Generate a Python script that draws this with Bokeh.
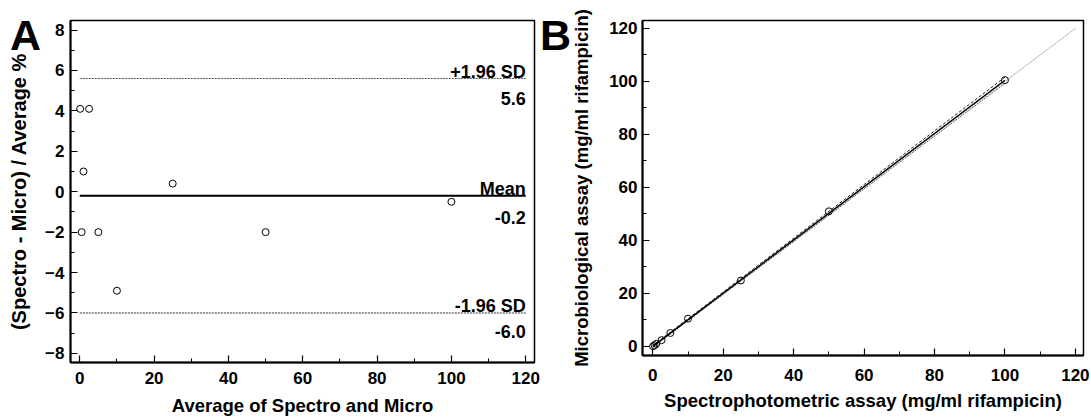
from bokeh.plotting import figure
from bokeh.models import Range1d, FixedTicker, Label, Div
from bokeh.embed import file_html
from bokeh.resources import INLINE

# ---------------- data ----------------
# Panel A: Bland-Altman
avg_x = [0.1, 0.5, 1.0, 2.5, 5.0, 10.0, 25.0, 50.0, 100.0]
diff_pct = [4.1, -2.0, 1.0, 4.1, -2.0, -4.9, 0.4, -2.0, -0.5]
sd_hi = 5.6
mean_diff = -0.2
sd_lo = -6.0
limit_x = [0, 120]

# Panel B: method comparison
spectro = [0.1, 0.5, 1.0, 2.5, 5.0, 10.0, 25.0, 50.0, 100.0]
micro = [0.1, 0.5, 1.0, 2.4, 5.1, 10.5, 24.9, 51.0, 100.5]
identity_x = [0, 120]
identity_y = [0, 120]
fit_x = [0, 100]
fit_y = [0.05, 100.45]
upper_y = [0.35, 101.6]
lower_y = [-0.25, 99.3]

ticksA_x = [0, 20, 40, 60, 80, 100, 120]
minorA_x = [10, 30, 50, 70, 90, 110]
ticksA_y = [-8, -6, -4, -2, 0, 2, 4, 6, 8]
minorA_y = [-7, -5, -3, -1, 1, 3, 5, 7]
ticksB = [0, 20, 40, 60, 80, 100, 120]
minorB = [10, 30, 50, 70, 90, 110]
panel_letters = ["A", "B"]

FONT = "Liberation Sans"


def style(p):
    p.xgrid.visible = False
    p.ygrid.visible = False
    p.outline_line_color = "black"
    p.outline_line_width = 1.5
    p.background_fill_color = "white"
    p.border_fill_color = "white"
    for ax in (p.xaxis[0], p.yaxis[0]):
        ax.axis_line_width = 2
        ax.axis_line_color = "black"
        ax.major_tick_in = 7
        ax.major_tick_out = 0
        ax.minor_tick_in = 4
        ax.minor_tick_out = 0
        ax.major_tick_line_width = 1.2
        ax.minor_tick_line_width = 1
        ax.major_label_text_font = FONT
        ax.major_label_text_font_style = "bold"
        ax.major_label_text_font_size = "17px"
        ax.major_label_text_color = "black"
        ax.axis_label_text_font = FONT
        ax.axis_label_text_font_style = "bold"
        ax.axis_label_text_font_size = "18.5px"
        ax.axis_label_text_color = "black"
    p.xaxis[0].major_label_text_line_height = 1.0
    p.xaxis[0].axis_label_text_line_height = 1.0


# ---------------- Panel A ----------------
pA = figure(width=540, height=418, x_range=Range1d(-2.5, 122.36), y_range=Range1d(-8.45, 8.47),
            output_backend="svg", toolbar_location=None,
            min_border_left=70, min_border_right=6, min_border_top=20, min_border_bottom=56)
style(pA)
pA.xaxis.ticker = FixedTicker(ticks=ticksA_x, minor_ticks=minorA_x)
pA.yaxis.ticker = FixedTicker(ticks=ticksA_y, minor_ticks=minorA_y)
pA.xaxis.axis_label = "Average of Spectro and Micro"
pA.yaxis.axis_label = "(Spectro - Micro) / Average %"
pA.yaxis.axis_label_text_font_size = "20px"
pA.xaxis.major_label_standoff = 9
pA.xaxis.axis_label_standoff = 8
pA.yaxis.major_label_standoff = 6
pA.yaxis.axis_label_standoff = 12

pA.line(limit_x, [sd_hi, sd_hi], line_color="#555555", line_width=1, line_dash="2 1")
pA.line(limit_x, [sd_lo, sd_lo], line_color="#333333", line_width=1, line_dash="2 1")
pA.line(limit_x, [mean_diff, mean_diff], line_color="black", line_width=2)
pA.scatter(avg_x, diff_pct, marker="circle", size=7, fill_color=None, line_color="black", line_width=1)

for txt, yv, off in [("+1.96 SD", sd_hi, 7), ("%.1f" % sd_hi, sd_hi, -19.5),
                     ("Mean", mean_diff, 7), ("%.1f" % mean_diff, mean_diff, -22),
                     ("-1.96 SD", sd_lo, 7), ("%.1f" % sd_lo, sd_lo, -18.5)]:
    pA.add_layout(Label(x=limit_x[1], y=yv, y_offset=off, text=txt, text_align="right",
                        text_baseline="alphabetic", text_font=FONT, text_font_style="bold",
                        text_font_size="18px", text_color="black"))

# ---------------- Panel B ----------------
pB = figure(width=551, height=418, x_range=Range1d(-2.92, 122.3), y_range=Range1d(-3.4, 123.0),
            output_backend="svg", toolbar_location=None,
            min_border_left=102, min_border_right=8, min_border_top=20, min_border_bottom=63,
            styles={"position": "absolute", "left": "540px", "top": "0px"})
style(pB)
pB.xaxis.ticker = FixedTicker(ticks=ticksB, minor_ticks=minorB)
pB.yaxis.ticker = FixedTicker(ticks=ticksB, minor_ticks=minorB)
pB.xaxis.axis_label = "Spectrophotometric assay (mg/ml rifampicin)"
pB.yaxis.axis_label = "Microbiological assay (mg/ml rifampicin)"
pB.xaxis.major_label_standoff = 13
pB.xaxis.axis_label_standoff = 6
pB.yaxis.major_label_standoff = 5
pB.yaxis.axis_label_standoff = 14

pB.line(identity_x, identity_y, line_color="#777777", line_width=1, line_dash="1 1")
pB.line(fit_x, upper_y, line_color="#222222", line_width=1, line_dash="3 2")
pB.line(fit_x, lower_y, line_color="#555555", line_width=1, line_dash="2 1")
pB.line(fit_x, fit_y, line_color="black", line_width=1.5)
pB.scatter(spectro, micro, marker="circle", size=7, fill_color=None, line_color="black", line_width=1)


def letter_div(txt, left):
    return Div(text=txt, width=40, height=44,
               styles={"position": "absolute", "left": "%dpx" % left, "top": "14px",
                       "z-index": "10", "font-family": "'Liberation Sans', Arial, sans-serif",
                       "font-weight": "bold", "font-size": "43px", "line-height": "1",
                       "color": "black", "margin": "0", "padding": "0"})


divA = letter_div(panel_letters[0], 10)
divB = letter_div(panel_letters[1], 540)

open("out.html", "w").write(file_html([pA, pB, divA, divB], INLINE))
